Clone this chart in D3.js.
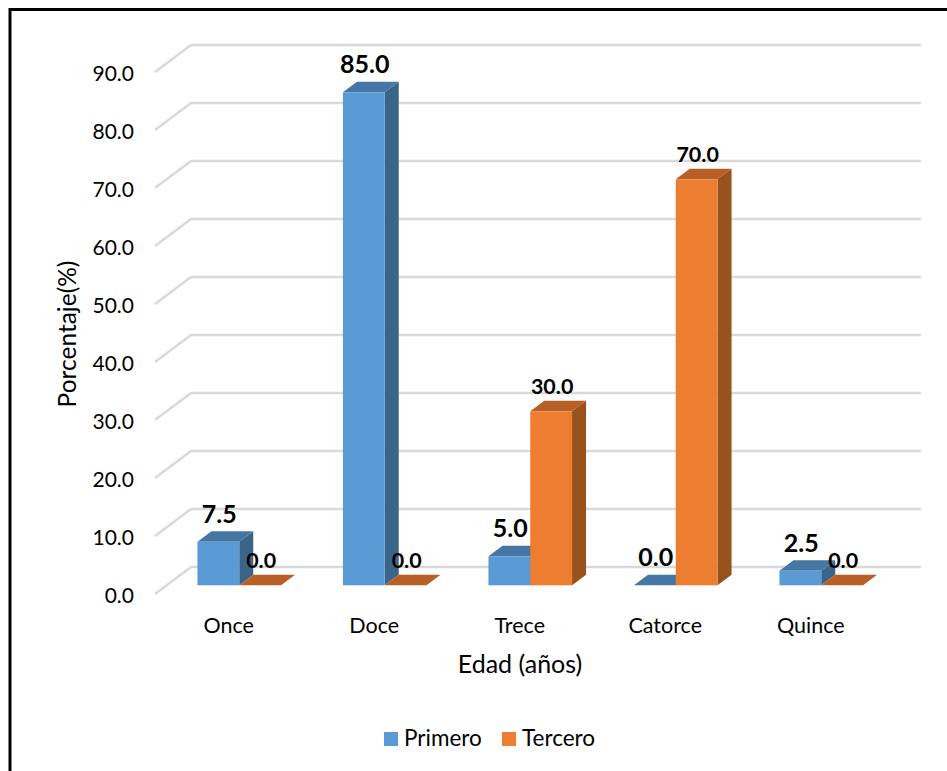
<!DOCTYPE html>
<html>
<head>
<meta charset="utf-8">
<script src="https://cdn.jsdelivr.net/npm/d3@7"></script>
<style>
  html, body { margin: 0; padding: 0; background: #fff; }
  svg { display: block; }
  text { font-family: Lato, "Open Sans", sans-serif; fill: #000; }
</style>
</head>
<body>
<div id="chart"></div>
<script>
const categories = ["Once", "Doce", "Trece", "Catorce", "Quince"];
const primero = [7.5, 85.0, 5.0, 0.0, 2.5];
const tercero = [0.0, 0.0, 30.0, 70.0, 0.0];
const yTicks = [0, 10, 20, 30, 40, 50, 60, 70, 80, 90];
const seriesNames = ["Primero", "Tercero"];

const width = 947, height = 771;

// depth of the fake 3d box
const depthX = 14, depthY = 10.5;
// floor of the walls sits in front of / behind the bars
const wallFrontX = 155, wallBackX = 191, wallRightX = 921;

const svg = d3.select("#chart").append("svg")
    .attr("width", width)
    .attr("height", height);

// outer frame, cut off by the picture at the bottom
svg.append("path")
    .attr("d", "M10,771 V9.5 H947")
    .attr("fill", "none")
    .attr("stroke", "#000")
    .attr("stroke-width", 3);

const x0 = d3.scaleBand().domain(categories).range([166.5, 894]);
const y = d3.scaleLinear().domain([0, 90]).range([585.3, 63.3]);
const barW = 41.8;

// gridlines, front y is 8.7 under the bars' base line and back is 18.3 over it
const grid = svg.append("g");
yTicks.forEach(function(t) {
    let yy = y(t);
    grid.append("path")
        .attr("d", "M" + wallFrontX + "," + (yy + 8.7) + " L" + wallBackX + "," + (yy - 18.3) + " H" + wallRightX)
        .attr("fill", "none")
        .attr("stroke", "#d9d9d9")
        .attr("stroke-width", 2.5);

    grid.append("text")
        .attr("x", 134)
        .attr("y", yy + 8.7 + 8.5)
        .attr("text-anchor", "end")
        .style("font-size", "21px")
        .text(t.toFixed(1));
});

const colors = [
    { front: "#5b9bd5", top: "#4677a4", side: "#3a6589" },
    { front: "#ed7d31", top: "#b75f25", side: "#99521e" }
];
const labelSize = ["25px", "21.5px"];
const labelGap = [19, 17.5];

function drawBars(values, s) {
    let c = colors[s];
    categories.forEach(function(cat, i) {
        let v = values[i];
        let left = x0(cat) + x0.bandwidth() / 2 - barW + s * barW;
        let right = left + barW;
        let top = y(v);
        let base = y(0);
        let g = svg.append("g");

        // side
        if (v > 0) {
            g.append("polygon")
                .attr("points", [[right, top], [right + depthX, top - depthY], [right + depthX, base - depthY], [right, base]].join(" "))
                .attr("fill", c.side);
        }
        // top
        g.append("polygon")
            .attr("points", [[left, top], [left + depthX, top - depthY], [right + depthX, top - depthY], [right, top]].join(" "))
            .attr("fill", c.top);
        // front
        if (v > 0) {
            g.append("rect")
                .attr("x", left)
                .attr("y", top)
                .attr("width", barW)
                .attr("height", base - top)
                .attr("fill", c.front);
        }
    });
}

drawBars(primero, 0);
drawBars(tercero, 1);

// value labels go on last so the bars never cover them
[primero, tercero].forEach(function(values, s) {
    categories.forEach(function(cat, i) {
        let left = x0(cat) + x0.bandwidth() / 2 - barW + s * barW;
        svg.append("text")
            .attr("x", left + barW / 2 + 1)
            .attr("y", y(values[i]) - labelGap[s])
            .attr("text-anchor", "middle")
            .style("font-size", labelSize[s])
            .style("font-weight", "bold")
            .text(values[i].toFixed(1));
    });
});

// category labels
categories.forEach(function(cat) {
    svg.append("text")
        .attr("x", x0(cat) + x0.bandwidth() / 2 - 10.5)
        .attr("y", 633)
        .attr("text-anchor", "middle")
        .style("font-size", "21.5px")
        .text(cat);
});

// axis titles
svg.append("text")
    .attr("x", 520)
    .attr("y", 673)
    .attr("text-anchor", "middle")
    .style("font-size", "25px")
    .text("Edad (años)");

svg.append("text")
    .attr("transform", "translate(76,334) rotate(-90)")
    .attr("text-anchor", "middle")
    .style("font-size", "24.5px")
    .text("Porcentaje(%)");

// legend
const legendX = [384, 502];
seriesNames.forEach(function(name, i) {
    svg.append("rect")
        .attr("x", legendX[i])
        .attr("y", 732)
        .attr("width", 14)
        .attr("height", 14)
        .attr("fill", colors[i].front);
    svg.append("text")
        .attr("x", legendX[i] + 20)
        .attr("y", 745.5)
        .style("font-size", "22.5px")
        .text(name);
});
</script>
</body>
</html>
